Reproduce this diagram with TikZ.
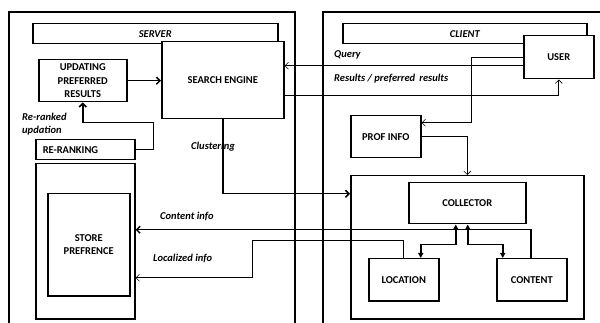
\documentclass[tikz,border=0pt]{standalone}
\usepackage{fontspec}
\setmainfont{Carlito}
\usetikzlibrary{arrows.meta,calc}
\begin{document}
\begin{tikzpicture}[x=1pt,y=-1pt,
  box/.style={draw,line width=1.5pt,anchor=north west,inner sep=1pt,align=center,font=\bfseries\fontsize{10.5}{13.5}\selectfont},
  lab/.style={font=\itshape\bfseries\fontsize{10.5}{12}\selectfont,anchor=west,inner sep=0pt},
  thk/.style={line width=1.5pt},
  thn/.style={line width=0.7pt},
  bar/.style={-{Straight Barb[length=3.5pt,width=7pt]}},
  tri/.style={{Triangle[length=5pt,width=5pt]}-{Triangle[length=5pt,width=5pt]}}
]
\useasboundingbox (0,0) rectangle (600,323);
% outer frames
\draw[thk] (9,323) -- (9,12) -- (295,12) -- (295,323);
\draw[thk] (323,323) -- (323,12) -- (600,12);
% banners
\node[box,minimum width=245pt,minimum height=20pt,font=\itshape\bfseries\fontsize{10.5}{12}\selectfont] (sban) at (32,23) {SERVER};
\node[box,minimum width=244pt,minimum height=20pt,font=\itshape\bfseries\fontsize{10.5}{12}\selectfont] (cban) at (342,23) {CLIENT};
% server nodes
\node[box,fill=white,minimum width=122pt,minimum height=77pt] (search) at (161,41) {SEARCH ENGINE};
\node[box,minimum width=88pt,minimum height=42pt] (upd) at (38,59) {UPDATING\\PREFERRED\\RESULTS};
\node[box,minimum width=99pt,minimum height=20pt,text width=85pt,align=left] (rr) at (35,139) {RE-RANKING};
\node[box,minimum width=99pt,minimum height=155pt] (sout) at (35,163) {};
\node[box,minimum width=82pt,minimum height=102pt] (sin) at (47,193) {STORE\\PREFRENCE};
% client nodes
\node[box,fill=white,minimum width=70pt,minimum height=43pt] (user) at (523,35) {USER};
\node[box,minimum width=70pt,minimum height=42pt] (prof) at (350,115) {PROF INFO};
\node[box,minimum width=233pt,minimum height=143pt] (cbox) at (350,175) {};
\node[box,minimum width=117pt,minimum height=41pt] (coll) at (408,182) {COLLECTOR};
\node[box,minimum width=70pt,minimum height=42pt] (loc) at (368,258) {LOCATION};
\node[box,minimum width=70pt,minimum height=42pt] (cont) at (496,258) {CONTENT};
% labels
\node[lab] (lq) at (334,55) {Query};
\node[lab] (lres) at (334,79) {Results / preferred\, results};
\node[lab] (lrr) at (22,117) {Re-ranked};
\node[lab] (lup) at (22,131) {updation};
\node[lab] (lcl) at (191,147) {Clustering};
\node[lab] (lci) at (160,216) {Content info};
\node[lab] (lli) at (153,258) {Localized info};
% connectors
\draw[thk,bar] (upd.east) -- (upd.east -| search.west);
\draw[thk,bar] (rr.east) -- ++(18,0) |- ($(upd.south)+(0,20)$) -- (upd.south);
\draw[thn,bar] ([yshift=-8.5pt]user.west) -- ([yshift=14.5pt]search.east);
\draw[thn,bar] ([yshift=-15.5pt]search.east) -| (user.south);
\draw[thk,bar] (search.south) |- ([yshift=53.5pt]cbox.west);
\draw[thn,bar] (user.west) -- ++(-52,0) |- ([yshift=14pt]prof.east);
\draw[thn,bar] (prof.east) -| (cbox.north);
\draw[thk,bar] ([xshift=-1pt]cont.north) |- ([yshift=11.5pt]sout.east);
\coordinate (lbend) at (252,240);
\draw[thn,bar] (loc.north) |- (lbend) |- ([yshift=-36.5pt]sout.east);
\draw[thk,tri] ([xshift=-11.5pt]coll.south) -- ++(0,20) -| ([xshift=17pt]loc.north);
\draw[thk,tri] ([xshift=0.5pt]coll.south) -- ++(0,20) -| ([xshift=-29pt]cont.north);
\end{tikzpicture}
\end{document}
